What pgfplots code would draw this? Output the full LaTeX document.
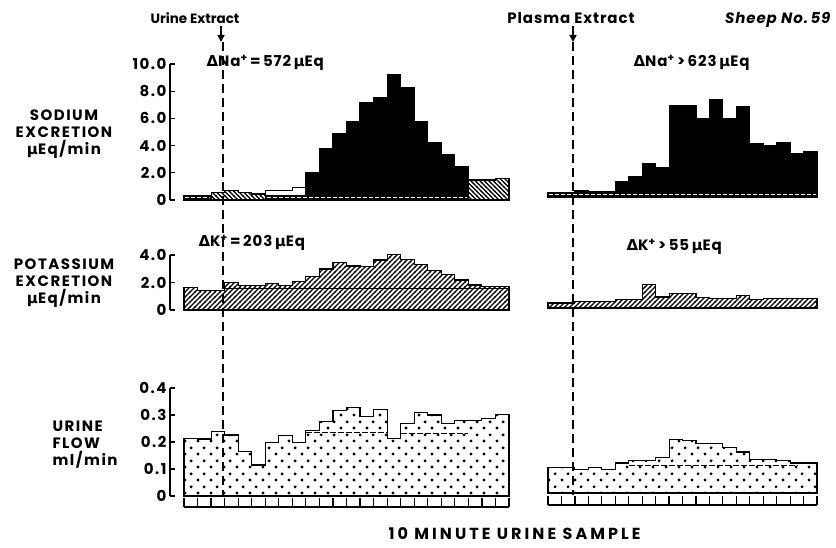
\documentclass[border=0pt]{standalone}
\usepackage{pgfplots}
\pgfplotsset{compat=1.18}
\usepackage{fontspec}
\setmainfont{Poppins}
\newfontfamily\dejavu{DejaVu Sans}
\newfontfamily\lsA{Poppins}[LetterSpace=10]
\newfontfamily\lsB{Poppins}[LetterSpace=19]
\newfontfamily\lsC{Poppins}[LetterSpace=6]
\usetikzlibrary{patterns,arrows.meta}

\pgfdeclarepatternformonly{hNE}{\pgfqpoint{-1pt}{-1pt}}{\pgfqpoint{6pt}{6pt}}{\pgfqpoint{5pt}{5pt}}{%
  \pgfsetlinewidth{1.3pt}%
  \pgfpathmoveto{\pgfqpoint{-0.5pt}{-0.5pt}}%
  \pgfpathlineto{\pgfqpoint{5.5pt}{5.5pt}}%
  \pgfusepath{stroke}}
\pgfdeclarepatternformonly{hNW}{\pgfqpoint{-1pt}{-1pt}}{\pgfqpoint{5.5pt}{5.5pt}}{\pgfqpoint{4.5pt}{4.5pt}}{%
  \pgfsetlinewidth{1.2pt}%
  \pgfpathmoveto{\pgfqpoint{-0.5pt}{5pt}}%
  \pgfpathlineto{\pgfqpoint{5pt}{-0.5pt}}%
  \pgfusepath{stroke}}
\pgfdeclarepatternformonly{bigdots}{\pgfqpoint{0pt}{0pt}}{\pgfqpoint{13pt}{13pt}}{\pgfqpoint{13pt}{13pt}}{%
  \pgfpathcircle{\pgfqpoint{3.25pt}{3.25pt}}{1.7pt}%
  \pgfpathcircle{\pgfqpoint{9.75pt}{9.75pt}}{1.7pt}%
  \pgfusepath{fill}}

\newcommand\tl{\fontsize{15}{17}\selectfont\lsA\bfseries}
\newcommand\lb{\fontsize{15}{17}\selectfont\lsA\bfseries}
\newcommand\lt{\fontsize{15}{17}\selectfont\lsC\bfseries}
\newcommand\gr[1]{{\dejavu\bfseries #1}}

\pgfplotsset{
  lp/.style={scale only axis, clip=false, width=339pt, xmin=-1.034, xmax=24, ymin=0,
    axis x line=none, axis y line*=left, xtick=\empty, tick align=inside, major tick length=5pt,
    axis line style={line width=1.2pt}, tick style={line width=1.2pt, black},
    yticklabel style={font=\tl}, anchor=south west},
  rp/.style={scale only axis, clip=false, width=269pt, xmin=0, xmax=20, ymin=0,
    axis lines=none, anchor=south west},
  trow/.style={scale only axis, height=9pt, anchor=south west, xmin=0, ymin=0, ymax=1,
    axis x line*=bottom, axis y line=none, xticklabel=\empty, tick align=inside,
    major tick length=9pt, axis line style={line width=1.2pt}, tick style={line width=1.2pt, black}},
  bar/.style={const plot, draw=black, line width=1.1pt},
  hatchne/.style={bar, preaction={fill=white}, pattern=hNE},
  hatchnw/.style={bar, preaction={fill=white}, pattern=hNW},
  dotted/.style={bar, preaction={fill=white}, pattern=bigdots},
}

\begin{document}
\begin{tikzpicture}[x=1pt,y=1pt]
\path[use as bounding box] (0,0) rectangle (836,547);

% ---------- Sodium, left ----------
\begin{axis}[lp, height=136pt, at={(170pt,347pt)}, ymax=10,
  ytick={0,2,4,6,8,10}, yticklabels={0,2.0,4.0,6.0,8.0,10.0}]
\addplot[bar, fill=white] coordinates {(6,0.69)(7,0.69)(8,0.93)(9,0.93)} \closedcycle;
\addplot[bar, fill=black] coordinates {(9,2.0)(10,3.75)(11,4.85)(12,5.8)(13,7.2)(14,7.5)(15,9.2)(16,8.26)(17,5.76)(18,4.24)(19,3.36)(20,2.43)(21,2.43)} \closedcycle;
\addplot[hatchnw] coordinates {(2,0.56)(3,0.73)(4,0.56)(5,0.44)(6,0.44)} \closedcycle;
\addplot[hatchnw] coordinates {(21,1.47)(22,1.47)(23,1.6)(24,1.6)} \closedcycle;
\addplot[bar, fill=black] coordinates {(0,0.35)(2,0.35)} \closedcycle;
\addplot[bar, fill=black] coordinates {(6,0.35)(21,0.35)} \closedcycle;
\addplot[white, line width=1pt, dash pattern=on 4pt off 2pt] coordinates {(0.1,0.17)(1.9,0.17)};
\addplot[white, line width=1pt, dash pattern=on 4pt off 2pt] coordinates {(6.1,0.17)(20.9,0.17)};
\end{axis}

% ---------- Sodium, right ----------
\begin{axis}[rp, height=136pt, at={(548pt,350pt)}, ymax=10]
\addplot[bar, fill=black] coordinates {(2,0.45)(3,0.4)(4,0.4)(5,1.15)(6,1.47)(7,2.45)(8,2.2)(9,6.74)(10,6.74)(11,5.76)(12,7.18)(13,5.76)(14,6.62)(15,3.92)(16,3.8)(17,4.04)(18,3.19)(19,3.31)(20,3.31)} \closedcycle;
\addplot[bar, fill=black] coordinates {(0,0.3)(20,0.3)} \closedcycle;
\addplot[white, line width=1pt, dash pattern=on 4pt off 2pt] coordinates {(0.1,0.15)(19.9,0.15)};
\end{axis}

% ---------- Potassium, left ----------
\begin{axis}[lp, height=55pt, at={(170pt,237pt)}, ymax=4,
  ytick={0,2,4}, yticklabels={0,2.0,4.0}]
\addplot[hatchne] coordinates {(0,1.65)(1,1.45)(2,1.45)(3,2.0)(4,1.77)(5,1.77)(6,1.94)(7,1.77)(8,2.06)(9,2.42)(10,2.98)(11,3.44)(12,3.2)(13,3.15)(14,3.64)(15,4.05)(16,3.68)(17,3.32)(18,2.9)(19,2.55)(20,2.18)(21,1.82)(22,1.7)(23,1.7)(24,1.7)} \closedcycle;
\addplot[black, line width=0.9pt] coordinates {(3,1.55)(24,1.55)};
\end{axis}

% ---------- Potassium, right ----------
\begin{axis}[rp, height=55pt, at={(548pt,239pt)}, ymax=4]
\addplot[hatchne] coordinates {(0,0.36)(1,0.36)(2,0.48)(3,0.48)(4,0.48)(5,0.65)(6,0.65)(7,1.7)(8,0.8)(9,1.04)(10,1.04)(11,0.75)(12,0.7)(13,0.7)(14,0.9)(15,0.6)(16,0.7)(17,0.7)(18,0.7)(19,0.7)(20,0.7)} \closedcycle;
\end{axis}

% ---------- Urine flow, left ----------
\begin{axis}[lp, height=108pt, at={(170pt,51pt)}, ymax=0.4,
  ytick={0,0.1,0.2,0.3,0.4}, yticklabels={0,0.1,0.2,0.3,0.4}]
\addplot[dotted] coordinates {(0,0.214)(1,0.211)(2,0.238)(3,0.226)(4,0.164)(5,0.115)(6,0.198)(7,0.223)(8,0.198)(9,0.244)(10,0.275)(11,0.316)(12,0.328)(13,0.296)(14,0.319)(15,0.214)(16,0.269)(17,0.31)(18,0.3)(19,0.267)(20,0.278)(21,0.278)(22,0.288)(23,0.302)(24,0.302)} \closedcycle;
\addplot[black, line width=0.9pt, dash pattern=on 6pt off 2pt] coordinates {(9,0.236)(15,0.236)};
\addplot[black, line width=0.9pt, dash pattern=on 6pt off 2pt] coordinates {(16,0.232)(21,0.232)};
\end{axis}

% ---------- Urine flow, right ----------
\begin{axis}[rp, height=108pt, at={(548pt,54pt)}, ymax=0.4]
\addplot[dotted] coordinates {(0,0.096)(1,0.096)(2,0.086)(3,0.096)(4,0.086)(5,0.111)(6,0.121)(7,0.121)(8,0.131)(9,0.199)(10,0.195)(11,0.185)(12,0.185)(13,0.170)(14,0.152)(15,0.123)(16,0.123)(17,0.121)(18,0.111)(19,0.111)(20,0.111)} \closedcycle;
\addplot[black, line width=0.9pt, dash pattern=on 6pt off 2pt] coordinates {(6,0.102)(18.5,0.102)};
\end{axis}

% ---------- tick rows ----------
\begin{axis}[trow, width=325pt, at={(184pt,40pt)}, xmax=24, xtick={0,...,24}]
\addplot[draw=none] coordinates {(0,0)};
\end{axis}
\begin{axis}[trow, width=269pt, at={(548pt,42pt)}, xmax=20, xtick={0,...,20}]
\addplot[draw=none] coordinates {(0,0)};
\end{axis}

% ---------- annotations ----------
\draw[line width=1.3pt, dash pattern=on 9pt off 5pt] (223,505) -- (223,50);
\draw[line width=1.3pt, dash pattern=on 9pt off 5pt] (573,505) -- (573,52);
\draw[line width=1.6pt, -{Triangle[length=7pt,width=7pt]}] (221,521) -- (221,505);
\draw[line width=1.6pt, -{Triangle[length=7pt,width=7pt]}] (573,521) -- (573,505);

\node[font=\fontsize{13.5}{16}\selectfont\bfseries] at (195,529) {Urine Extract};
\node[font=\lt] at (571,529) {Plasma Extract};
\node[font=\lt\itshape, anchor=east] at (834,527) {Sheep No.\,59};

\node[font=\lt, anchor=west] at (203,484) {\gr{Δ}Na\textsuperscript{+}\,=\,572\,\gr{μ}Eq};
\node[font=\lt, anchor=west] at (630,484) {\gr{Δ}Na\textsuperscript{+}\,>\,623\,\gr{μ}Eq};
\node[font=\lt, anchor=west] at (195,304) {\gr{Δ}K\textsuperscript{+}\,=\,203\,\gr{μ}Eq};
\node[font=\lt, anchor=west] at (623,300) {\gr{Δ}K\textsuperscript{+}\,>\,55\,\gr{μ}Eq};

\node[font=\lb, align=center] at (64,413) {SODIUM\\EXCRETION\\\gr{μ}Eq/min};
\node[font=\lb, align=center] at (64,264) {POTASSIUM\\EXCRETION\\\gr{μ}Eq/min};
\node[font=\lb, align=left, anchor=west] at (49,102) {URINE\\FLOW\\ml/min};

\node[font=\fontsize{16}{18}\selectfont\lsB\bfseries, anchor=west] at (385,13) {10 MINUTE URINE SAMPLE};
\end{tikzpicture}
\end{document}
